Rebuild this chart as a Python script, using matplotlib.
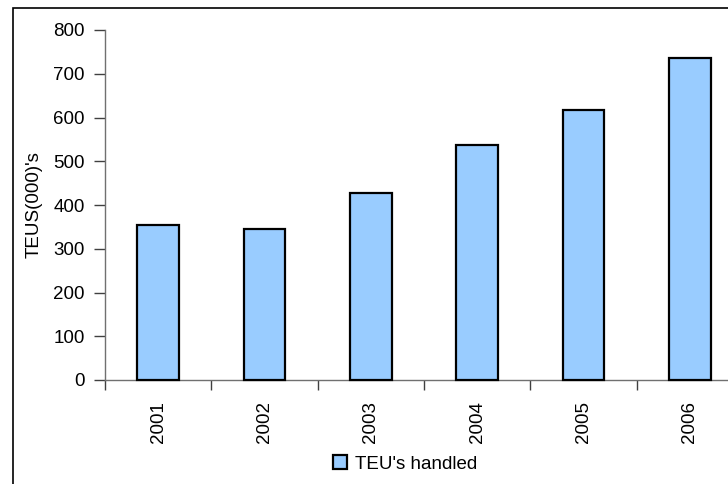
import numpy as np
import matplotlib
matplotlib.use("Agg")
import matplotlib.pyplot as plt
from matplotlib.patches import Rectangle

years = ['2001', '2002', '2003', '2004', '2005', '2006']
teus = [354, 345, 427, 537, 617, 737]

plt.rcParams['font.family'] = ['Liberation Sans', 'DejaVu Sans']
fs = 13.5

fig = plt.figure(figsize=(7.28, 4.84), dpi=100)
W, H = 728.0, 484.0

# outer chart border (runs off the right and bottom edge)
fig.patches.append(Rectangle((12.5 / W, -0.1), 1.2, 1.1 - 8.5 / H, transform=fig.transFigure,
                             fill=False, edgecolor='black', linewidth=1.2))

ax = fig.add_axes([105 / W, 1 - 380 / H, 638 / W, 350 / H])
ax.set_clip_on(False)

x = np.arange(len(years))
bars = ax.bar(x, teus, width=0.39, color='#99CCFF', edgecolor='black', linewidth=1.6, zorder=3)
for b in bars:
    b.set_clip_on(False)

ax.set_xlim(-0.5, len(years) - 0.5)
ax.set_ylim(0, 800)
ax.set_yticks(range(0, 801, 100))
ax.tick_params(axis='y', direction='out', length=8, width=1, color='#404040', labelsize=fs, pad=6.5)

ax.set_xticks(x)
ax.set_xticklabels(years, rotation=90, fontsize=fs)
ax.tick_params(axis='x', which='major', length=0, pad=15)
ax.set_xticks(np.arange(-0.5, len(years), 1.0), minor=True)
ax.tick_params(axis='x', which='minor', direction='out', length=7, width=1, color='#404040')

for s in ['top', 'right']:
    ax.spines[s].set_visible(False)
for s in ['left', 'bottom']:
    ax.spines[s].set_color('#707070')
    ax.spines[s].set_linewidth(1)
ax.spines['bottom'].set_clip_on(False)

ax.set_ylabel("TEUS(000)'s", fontsize=fs, labelpad=7.5)

leg = fig.legend([bars[0]], ["TEU's handled"], loc='center', bbox_to_anchor=(405 / W, 1 - 464 / H),
                 frameon=False, fontsize=fs, handlelength=0.75, handleheight=0.75,
                 handletextpad=0.4, borderpad=0)

fig.savefig('out.png', dpi=100)
